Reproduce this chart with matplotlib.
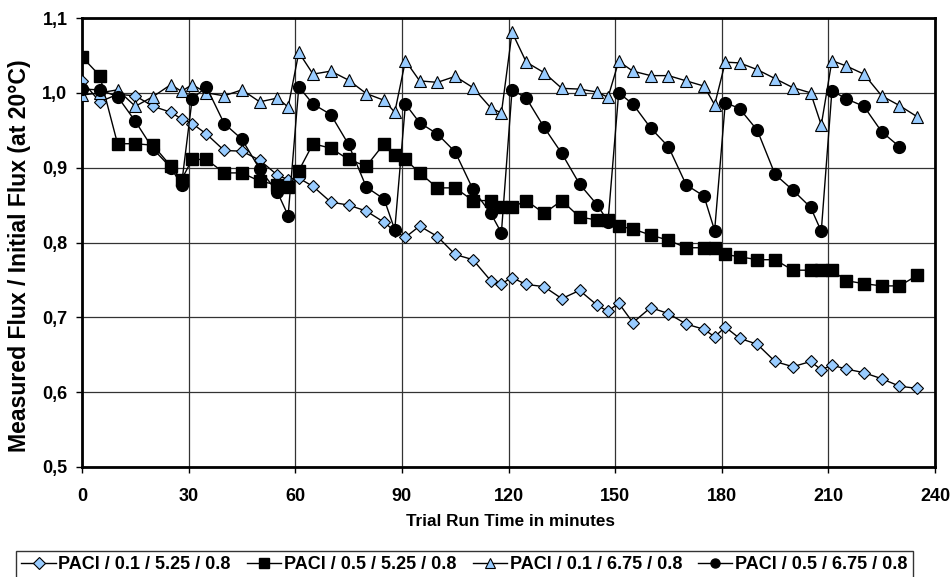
import matplotlib
matplotlib.use("Agg")
import matplotlib.pyplot as plt
from matplotlib.ticker import FixedLocator, FuncFormatter

plt.rcParams['font.family'] = ['Liberation Sans', 'DejaVu Sans']
plt.rcParams['font.weight'] = 'bold'

minutes = [0, 5, 10, 15, 20, 25, 28, 31, 35, 40, 45, 50, 55, 58, 61, 65, 70, 75, 80, 85,
           88, 91, 95, 100, 105, 110, 115, 118, 121, 125, 130, 135, 140, 145, 148, 151,
           155, 160, 165, 170, 175, 178, 181, 185, 190, 195, 200, 205, 208, 211, 215,
           220, 225, 230, 235]

paci_01_525 = [1.016, 0.988, 0.998, 0.996, 0.982, 0.974,
               0.965, 0.959, 0.945, 0.923, 0.922, 0.910, 0.890,
               0.884, 0.886, 0.875, 0.854, 0.850, 0.842, 0.827,
               0.815, 0.807, 0.822, 0.808, 0.784, 0.777, 0.749,
               0.745, 0.753, 0.744, 0.741, 0.725, 0.736, 0.716,
               0.708, 0.719, 0.693, 0.713, 0.705, 0.691, 0.684,
               0.674, 0.687, 0.672, 0.664, 0.641, 0.634, 0.641,
               0.630, 0.636, 0.631, 0.626, 0.618, 0.608, 0.605]

paci_05_525 = [1.048, 1.023, 0.932, 0.932, 0.930, 0.902,
               0.884, 0.911, 0.911, 0.893, 0.893, 0.882, 0.877,
               0.874, 0.896, 0.932, 0.926, 0.911, 0.902, 0.932,
               0.917, 0.911, 0.893, 0.873, 0.873, 0.856, 0.856,
               0.847, 0.847, 0.856, 0.839, 0.856, 0.834, 0.830,
               0.830, 0.822, 0.818, 0.810, 0.803, 0.793, 0.793,
               0.793, 0.784, 0.781, 0.777, 0.777, 0.763, 0.763,
               0.763, 0.763, 0.749, 0.745, 0.742, 0.742, 0.756]

paci_01_675 = [0.997, 1.000, 1.004, 0.982, 0.995, 1.011,
               1.002, 1.011, 1.000, 0.996, 1.004, 0.988, 0.993,
               0.981, 1.054, 1.025, 1.029, 1.017, 0.999, 0.990,
               0.974, 1.043, 1.016, 1.014, 1.022, 1.007, 0.980,
               0.973, 1.081, 1.041, 1.027, 1.006, 1.005, 1.001,
               0.994, 1.042, 1.029, 1.023, 1.023, 1.016, 1.009,
               0.984, 1.041, 1.040, 1.031, 1.019, 1.007, 1.000,
               0.957, 1.043, 1.036, 1.025, 0.996, 0.983, 0.968]

paci_05_675 = [1.005, 1.004, 0.995, 0.962, 0.925, 0.900,
               0.877, 0.992, 1.008, 0.959, 0.938, 0.898, 0.867,
               0.836, 1.008, 0.985, 0.971, 0.931, 0.874, 0.858,
               0.817, 0.985, 0.960, 0.945, 0.921, 0.871, 0.839,
               0.813, 1.004, 0.993, 0.954, 0.919, 0.878, 0.850,
               0.828, 1.000, 0.985, 0.953, 0.928, 0.877, 0.862,
               0.816, 0.987, 0.979, 0.950, 0.891, 0.870, 0.847,
               0.815, 1.003, 0.992, 0.982, 0.948, 0.928]

labels = ["PACl / 0.1 / 5.25 / 0.8", "PACl / 0.5 / 5.25 / 0.8",
          "PACl / 0.1 / 6.75 / 0.8", "PACl / 0.5 / 6.75 / 0.8"]
x_ticks = [0, 30, 60, 90, 120, 150, 180, 210, 240]
y_ticks = [0.5, 0.6, 0.7, 0.8, 0.9, 1.0, 1.1]

W, H = 952, 577
fig = plt.figure(figsize=(W / 100, H / 100), dpi=100)
ax = fig.add_axes([82 / W, 1 - 467 / H, (935 - 82) / W, (467 - 18) / H])

light = '#99CCFF'
ax.plot(minutes[:len(paci_01_525)], paci_01_525, color='black', lw=1.0,
        marker='D', markersize=6.5, markerfacecolor=light, markeredgecolor='black',
        markeredgewidth=0.8, label=labels[0], zorder=3)
ax.plot(minutes[:len(paci_05_525)], paci_05_525, color='black', lw=1.0,
        marker='s', markersize=8, markerfacecolor='black', markeredgecolor='black',
        label=labels[1], zorder=4)
ax.plot(minutes[:len(paci_01_675)], paci_01_675, color='black', lw=1.0,
        marker='^', markersize=8.5, markerfacecolor=light, markeredgecolor='black',
        markeredgewidth=0.8, label=labels[2], zorder=5)
ax.plot(minutes[:len(paci_05_675)], paci_05_675, color='black', lw=1.0,
        marker='o', markersize=8.5, markerfacecolor='black', markeredgecolor='black',
        label=labels[3], zorder=6)

ax.set_xlim(0, 240)
ax.set_ylim(0.5, 1.1)
ax.xaxis.set_major_locator(FixedLocator(x_ticks))
ax.yaxis.set_major_locator(FixedLocator(y_ticks))
ax.yaxis.set_major_formatter(FuncFormatter(lambda v, p: f"{v:.1f}".replace('.', ',')))
ax.grid(True, color='#333333', lw=0.9)
ax.set_axisbelow(True)
for s in ax.spines.values():
    s.set_linewidth(2.0)
    s.set_color('black')
ax.tick_params(axis='both', labelsize=13, length=4.5, width=1, direction='out')
ax.tick_params(axis='x', pad=10.5)
ax.tick_params(axis='y', pad=6)
for lab in ax.get_xticklabels() + ax.get_yticklabels():
    lab.set_fontweight('bold')

fig.text(511 / W, 1 - 522 / H, "Trial Run Time in minutes", fontsize=12.3,
         fontweight='bold', ha='center', va='center')
fig.text(20 / W, 1 - 256 / H, "Measured Flux / Initial Flux (at 20°C)", fontsize=16.6,
         fontweight='bold', ha='center', va='center', rotation=90)

leg = fig.legend(loc='upper left', bbox_to_anchor=(16 / W, 0, 897 / W, 1 - 551 / H),
                 mode='expand', borderaxespad=0, ncol=4,
                 frameon=True, fancybox=False, edgecolor='black',
                 handlelength=1.9, handletextpad=0.15, columnspacing=0.6,
                 borderpad=0.3, prop={'weight': 'bold', 'size': 13})
leg.get_frame().set_linewidth(1.0)
for h in leg.legend_handles:
    h.set_markersize(6.5)

fig.savefig("out.png", dpi=100)
